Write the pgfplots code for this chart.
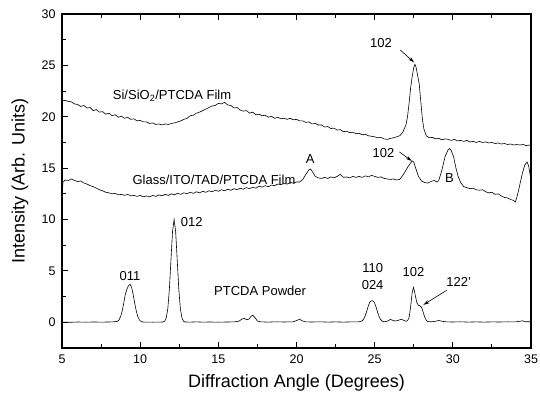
\documentclass[border=0pt]{standalone}
\usepackage{pgfplots}
\pgfplotsset{compat=1.18}
\usepackage{fontspec}
\setmainfont{Liberation Sans}
\usetikzlibrary{arrows.meta}
\begin{document}
\begin{tikzpicture}
\begin{axis}[name=ax, scale only axis, width=469pt, height=334pt,
  xmin=5, xmax=35, ymin=-2.5, ymax=30,
  xtick={5,10,...,35}, ytick={0,5,...,30},
  minor x tick num=1, minor y tick num=1,
  tick align=inside, xtick pos=both, ytick pos=left, xticklabel pos=lower,
  major tick length=6pt, minor tick length=4pt,
  every tick/.style={black, line width=0.9pt},
  axis line style={line width=1.2pt},
  /pgf/number format/assume math mode=true,
  tick label style={font=\fontsize{12.5}{14}\selectfont},
  xticklabel style={yshift=-3pt},
  yticklabel style={xshift=-3pt},
  clip=true]
% Si/SiO2/PTCDA film
\addplot[black, line width=0.6pt, mark=none] coordinates {
(5.0,21.55)(5.2,21.6)(5.4,21.5)(5.6,21.45)(5.8,21.25)(6.0,21.2)(6.2,21.0)(6.4,21.1)(6.6,20.85)(6.8,20.9)
(7.0,20.6)(7.2,20.7)(7.4,20.45)(7.6,20.5)(7.8,20.25)(8.0,20.35)(8.2,20.1)(8.4,20.2)(8.6,19.95)(8.8,20.05)
(9.0,19.85)(9.2,19.95)(9.4,19.75)(9.6,19.8)(9.8,19.6)(10.0,19.65)(10.2,19.5)(10.4,19.5)(10.6,19.35)(10.8,19.4)
(11.0,19.25)(11.2,19.3)(11.4,19.2)(11.6,19.3)(11.8,19.25)(12.0,19.35)(12.2,19.4)(12.4,19.5)(12.6,19.6)(12.8,19.75)
(13.0,19.85)(13.2,20.1)(13.4,20.15)(13.6,20.35)(13.8,20.45)(14.0,20.6)(14.2,20.75)(14.4,20.9)(14.6,21.05)(14.8,21.1)
(15.0,21.3)(15.2,21.25)(15.4,21.4)(15.6,21.15)(15.8,21.1)(16.0,20.85)(16.2,20.9)(16.4,20.65)(16.6,20.55)(16.8,20.6)
(17.0,20.35)(17.2,20.45)(17.4,20.2)(17.6,20.25)(17.8,20.1)(18.0,20.15)(18.2,19.95)(18.4,20.05)(18.6,19.85)(18.8,19.95)
(19.0,19.8)(19.2,19.85)(19.4,19.75)(19.6,19.85)(19.8,19.7)(20.0,19.75)(20.2,19.6)(20.4,19.6)(20.6,19.45)(20.8,19.5)
(21.0,19.3)(21.2,19.35)(21.4,19.2)(21.6,19.2)(21.8,19.0)(22.0,19.05)(22.2,18.85)(22.4,18.9)(22.6,18.7)(22.8,18.75)
(23.0,18.55)(23.2,18.6)(23.4,18.45)(23.6,18.5)(23.8,18.35)(24.0,18.4)(24.2,18.25)(24.4,18.3)(24.6,18.15)(24.8,18.1)
(25.0,18.05)(25.2,17.95)(25.4,18.0)(25.6,17.85)(25.8,17.8)(26.0,17.9)(26.2,17.95)(26.4,18.05)(26.6,18.15)(26.8,18.5)
(27.0,19.2)(27.1,20.0)(27.2,21.3)(27.3,22.8)(27.4,23.9)(27.5,24.8)(27.58,25.1)(27.65,24.8)(27.75,24.0)(27.85,23.2)
(27.95,21.5)(28.05,19.8)(28.15,18.8)(28.3,18.15)(28.5,17.95)(28.7,18.0)(28.9,17.85)(29.1,17.9)(29.3,17.75)(29.5,17.85)
(29.7,17.8)(29.9,17.7)(30.1,17.8)(30.3,17.65)(30.5,17.7)(30.7,17.6)(30.9,17.7)(31.1,17.55)(31.3,17.6)(31.5,17.5)
(31.7,17.6)(31.9,17.5)(32.1,17.55)(32.3,17.45)(32.5,17.5)(32.7,17.4)(32.9,17.45)(33.1,17.35)(33.3,17.4)(33.5,17.3)
(33.7,17.35)(33.9,17.25)(34.1,17.3)(34.3,17.25)(34.5,17.3)(34.7,17.2)(34.9,17.25)(35.0,17.2)
};
% Glass/ITO/TAD/PTCDA film
\addplot[black, line width=0.6pt, mark=none] coordinates {
(5.0,10.0)(5.05,13.6)(5.2,13.85)(5.4,13.8)(5.6,13.95)(5.8,13.8)(6.0,13.7)(6.2,13.75)(6.4,13.55)(6.6,13.45)
(6.8,13.3)(7.0,13.2)(7.2,13.05)(7.4,12.9)(7.6,12.8)(7.8,12.65)(8.0,12.6)(8.2,12.5)(8.4,12.55)(8.6,12.4)
(8.8,12.45)(9.0,12.35)(9.2,12.45)(9.4,12.3)(9.6,12.35)(9.8,12.25)(10.0,12.35)(10.2,12.2)(10.4,12.3)(10.6,12.2)
(10.8,12.35)(11.0,12.25)(11.2,12.4)(11.4,12.3)(11.6,12.45)(11.8,12.35)(12.0,12.5)(12.2,12.4)(12.4,12.55)(12.6,12.45)
(12.8,12.6)(13.0,12.5)(13.2,12.65)(13.4,12.55)(13.6,12.7)(13.8,12.6)(14.0,12.75)(14.2,12.65)(14.4,12.8)(14.6,12.7)
(14.8,12.85)(15.0,12.75)(15.2,12.9)(15.4,12.8)(15.6,12.95)(15.8,12.85)(16.0,13.0)(16.2,12.9)(16.4,13.05)(16.6,12.95)
(16.8,13.1)(17.0,13.0)(17.2,13.15)(17.4,13.05)(17.6,13.25)(17.8,13.15)(18.0,13.3)(18.2,13.2)(18.4,13.35)(18.6,13.3)
(18.8,13.45)(19.0,13.4)(19.2,13.5)(19.4,13.45)(19.6,13.6)(19.8,13.55)(20.0,13.65)(20.2,13.65)(20.4,13.9)(20.6,14.4)
(20.8,14.85)(20.9,14.9)(21.0,14.7)(21.2,14.2)(21.4,14.05)(21.6,14.0)(21.8,14.1)(22.0,14.0)(22.2,14.15)(22.4,14.05)
(22.6,14.2)(22.8,14.4)(23.0,14.1)(23.2,14.15)(23.4,14.05)(23.6,14.2)(23.8,14.1)(24.0,14.2)(24.2,14.1)(24.4,14.25)
(24.6,14.15)(24.8,14.3)(25.0,14.2)(25.2,14.1)(25.4,14.15)(25.6,14.0)(25.8,13.95)(26.0,13.9)(26.2,13.95)(26.4,13.85)
(26.6,13.9)(26.8,14.3)(27.0,14.8)(27.2,15.3)(27.4,15.7)(27.5,15.6)(27.6,15.1)(27.8,14.2)(28.0,13.75)(28.2,13.6)
(28.4,13.55)(28.6,13.7)(28.8,13.8)(29.0,13.65)(29.1,13.8)(29.3,14.8)(29.5,16.1)(29.7,16.8)(29.8,16.9)(29.9,16.7)
(30.05,16.1)(30.2,15.0)(30.35,14.15)(30.5,13.6)(30.7,13.2)(30.9,13.1)(31.1,13.0)(31.3,13.05)(31.5,12.9)(31.7,12.85)
(31.9,12.9)(32.1,12.7)(32.3,12.6)(32.5,12.65)(32.7,12.45)(32.9,12.5)(33.1,12.3)(33.3,12.15)(33.5,12.1)(33.7,11.95)
(33.9,11.85)(34.0,11.7)(34.1,12.2)(34.2,12.8)(34.3,13.5)(34.45,14.5)(34.6,15.3)(34.75,15.6)(34.85,15.2)(34.95,14.3)(35.0,13.8)
};
% PTCDA powder
\addplot[black, line width=0.6pt, mark=none] coordinates {
(5.0,0.02)(5.5,0.0)(6.0,0.03)(6.5,0.01)(7.0,0.03)(7.5,0.02)(8.0,0.03)(8.3,0.05)(8.55,0.09)(8.65,0.24)
(8.75,0.56)(8.85,1.10)(8.95,1.87)(9.05,2.73)(9.15,3.2)(9.25,3.55)(9.35,3.7)(9.45,3.43)(9.55,2.73)(9.65,1.87)
(9.75,1.10)(9.85,0.56)(9.95,0.24)(10.05,0.09)(10.15,0.03)(10.4,0.02)(10.8,0.01)(11.2,0.02)(11.47,0.03)(11.57,0.11)
(11.67,0.44)(11.77,1.35)(11.87,3.25)(11.97,6.07)(12.07,8.82)(12.17,10.0)(12.27,8.82)(12.37,6.07)(12.47,3.25)(12.57,1.35)
(12.67,0.44)(12.77,0.11)(12.87,0.03)(13.2,0.02)(13.6,0.04)(14.0,0.02)(14.5,0.03)(15.0,0.01)(15.5,0.03)(16.0,0.04)
(16.3,0.1)(16.5,0.3)(16.65,0.4)(16.8,0.25)(16.95,0.3)(17.1,0.6)(17.2,0.68)(17.35,0.45)(17.5,0.12)(17.7,0.05)
(18.2,0.02)(18.7,0.05)(19.2,0.03)(19.8,0.05)(20.05,0.2)(20.2,0.3)(20.35,0.15)(20.6,0.04)(21.0,0.03)(21.5,0.05)
(22.0,0.02)(22.5,0.04)(23.0,0.02)(23.5,0.04)(24.0,0.05)(24.18,0.12)(24.28,0.28)(24.38,0.58)(24.48,1.02)(24.58,1.52)
(24.68,1.94)(24.78,2.08)(24.88,2.1)(24.98,1.94)(25.08,1.52)(25.18,1.02)(25.28,0.58)(25.38,0.28)(25.48,0.12)(25.58,0.05)
(25.8,0.1)(26.0,0.28)(26.15,0.2)(26.3,0.12)(26.5,0.18)(26.7,0.3)(26.85,0.2)(27.0,0.1)(27.1,0.15)(27.2,0.45)
(27.3,1.51)(27.4,2.9)(27.48,3.4)(27.55,3.0)(27.6,2.6)(27.7,1.9)(27.8,1.65)(27.9,1.6)(28.0,1.45)(28.1,1.0)
(28.2,0.5)(28.3,0.2)(28.4,0.08)(28.6,0.05)(28.9,0.1)(29.1,0.18)(29.3,0.1)(29.6,0.04)(30.0,0.03)(30.5,0.05)
(31.0,0.02)(31.5,0.04)(32.0,0.02)(32.5,0.04)(33.0,0.03)(33.5,0.05)(34.0,0.04)(34.3,0.1)(34.45,0.15)(34.6,0.06)(35.0,0.05)
};
\begin{scope}[every node/.style={font=\fontsize{13}{15}\selectfont, anchor=base, inner sep=0pt}]
\node at (axis cs:12.04,21.7) {Si/SiO\textsubscript{2}/PTCDA Film};
\node at (axis cs:25.4,26.7) {102};
\node at (axis cs:14.72,13.45) {Glass/ITO/TAD/PTCDA Film};
\node at (axis cs:20.87,15.45) {A};
\node at (axis cs:25.57,16.03) {102};
\node at (axis cs:29.78,13.65) {B};
\node at (axis cs:9.35,4.1) {011};
\node at (axis cs:13.3,9.35) {012};
\node at (axis cs:17.67,2.6) {PTCDA Powder};
\node at (axis cs:24.87,4.8) {110};
\node at (axis cs:24.87,3.18) {024};
\node at (axis cs:27.48,4.41) {102};
\node at (axis cs:30.38,3.5) {122'};
\end{scope}
\draw[-{Stealth[length=6pt,width=3.5pt]}, line width=0.6pt] (axis cs:26.63,26.5) -- (axis cs:27.52,25.3);
\draw[-{Stealth[length=6pt,width=3.5pt]}, line width=0.6pt] (axis cs:26.58,16.58) -- (axis cs:27.37,15.7);
\draw[-{Stealth[length=6pt,width=3.5pt]}, line width=0.6pt] (axis cs:29.61,3.12) -- (axis cs:28.12,1.7);
\end{axis}
\node[font=\fontsize{18}{20}\selectfont] at ([yshift=-35pt]ax.south) {Diffraction Angle (Degrees)};
\node[font=\fontsize{18}{20}\selectfont, rotate=90] at ([xshift=-42pt]ax.west) {Intensity (Arb. Units)};
\pgfresetboundingbox
\path ([shift={(-62pt,-48pt)}]ax.south west) rectangle ([shift={(9pt,14pt)}]ax.north east);
\end{tikzpicture}
\end{document}
